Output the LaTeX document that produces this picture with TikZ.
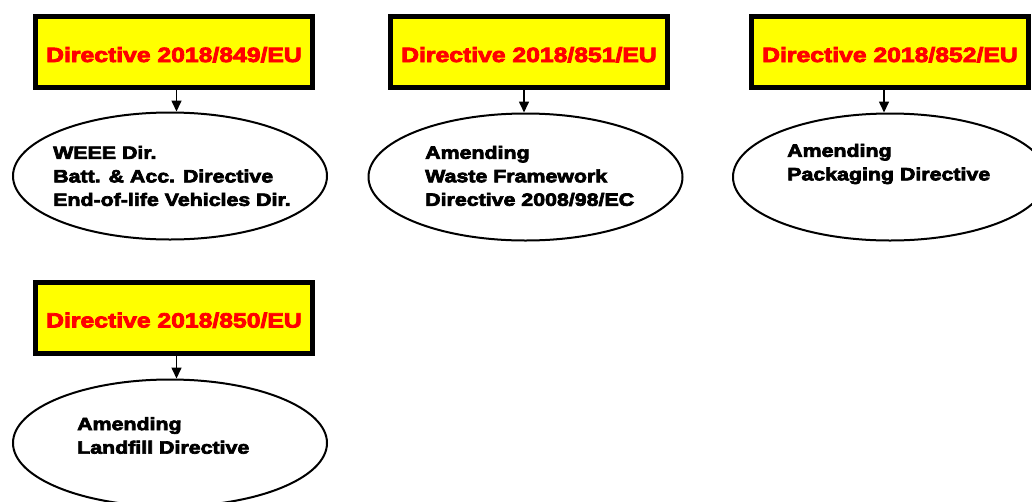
\documentclass[tikz,border=0pt]{standalone}
\usepackage{fontspec}
\setmainfont{Liberation Sans}
\newfontfamily\heavy{Liberation Sans}[FakeBold=4, FakeStretch=1.2]
\usetikzlibrary{shapes.geometric,arrows.meta}
\definecolor{boxyellow}{RGB}{255,255,0}
\definecolor{boxred}{RGB}{255,0,0}
\tikzset{
  dirbox/.style={draw=black, line width=5pt, fill=boxyellow, rectangle,
    minimum width=277pt, minimum height=71pt, inner sep=0pt,
    text height=20pt, text depth=0pt,
    text=boxred, font=\heavy\bfseries\fontsize{20.6}{24}\selectfont\pgfsetstrokecolor{boxred}},
  direll/.style={draw=black, line width=2pt, ellipse, minimum width=314pt,
    minimum height=127pt, inner sep=0pt},
  elltxt/.style={anchor=west, align=left, inner sep=0pt, text=black,
    font=\heavy\bfseries\fontsize{17.8}{23.5}\selectfont},
  arr/.style={draw=black, line width=1.6pt, -{Triangle[width=10pt,length=11pt]}}
}
\begin{document}
\begin{tikzpicture}[x=1pt,y=-1pt]
\useasboundingbox (0,0) rectangle (1032,501);
% boxes
\node[dirbox] (b1) at (174,52) {Directive 2018/849/EU};
\node[dirbox] (b2) at (529,52) {Directive 2018/851/EU};
\node[dirbox] (b3) at (890,52) {Directive 2018/852/EU};
\node[dirbox] (b4) at (174,317.5) {Directive 2018/850/EU};
% ellipses
\node[direll] (e1) at (170,176) {};
\node[direll] (e2) at (525.5,177) {};
\node[direll] (e3) at (890,177) {};
\node[direll] (e4) at (170,443) {};
% texts
\node[elltxt] (t1) at (53,176) {WEEE Dir.\\Batt. \& Acc. Directive\\End-of-life Vehicles Dir.};
\node[elltxt] (t2) at (425,176) {Amending\\Waste Framework\\Directive 2008/98/EC};
\node[elltxt] (t3) at (787,164) {Amending\\Packaging Directive};
\node[elltxt] (t4) at (77,435.5) {Amending\\Landfill Directive};
% arrows
\draw[arr] ([xshift=2.5pt]b1.south) -- ([xshift=2.5pt]b1.south |- e1.north);
\draw[arr] ([xshift=-5pt]b2.south) -- ([xshift=-5pt]b2.south |- e2.north);
\draw[arr] ([xshift=-6pt]b3.south) -- ([xshift=-6pt]b3.south |- e3.north);
\draw[arr] ([xshift=2.5pt]b4.south) -- ([xshift=2.5pt]b4.south |- e4.north);
\end{tikzpicture}
\end{document}
